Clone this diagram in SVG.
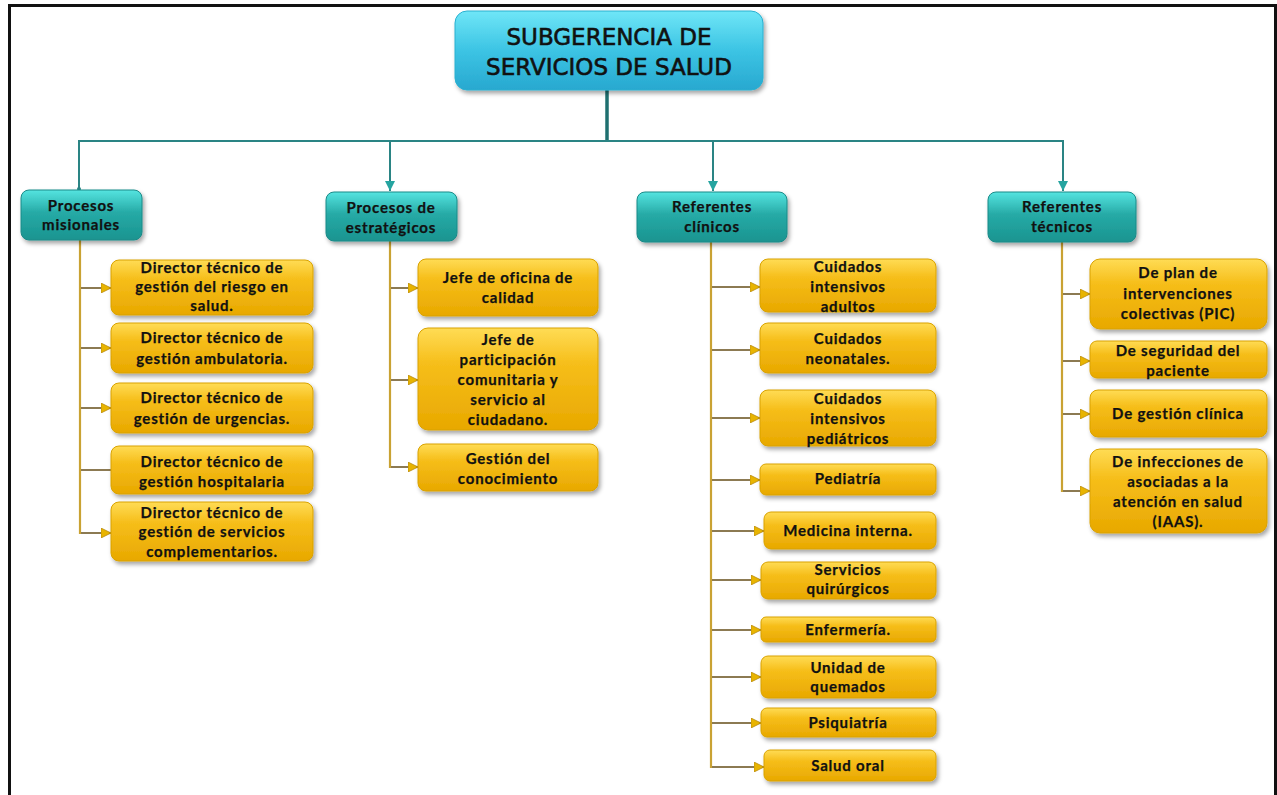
<svg xmlns="http://www.w3.org/2000/svg" width="1277" height="795" viewBox="0 0 1277 795">
  <defs>
    <linearGradient id="gTop" x1="0" y1="0" x2="0" y2="1">
      <stop offset="0" stop-color="#6fe6f7"/>
      <stop offset="0.5" stop-color="#3cc4e4"/>
      <stop offset="1" stop-color="#28a8d0"/>
    </linearGradient>
    <linearGradient id="gTeal" x1="0" y1="0" x2="0" y2="1">
      <stop offset="0" stop-color="#55e4e0"/>
      <stop offset="0.45" stop-color="#26aaa6"/>
      <stop offset="1" stop-color="#1a9490"/>
    </linearGradient>
    <linearGradient id="gGold" x1="0" y1="0" x2="0" y2="1">
      <stop offset="0" stop-color="#ffdc55"/>
      <stop offset="0.35" stop-color="#f6be1a"/>
      <stop offset="1" stop-color="#e8a800"/>
    </linearGradient>
    <linearGradient id="gShade" x1="0" y1="0" x2="0" y2="1">
      <stop offset="0" stop-color="#555" stop-opacity="0.75"/>
      <stop offset="1" stop-color="#777" stop-opacity="0"/>
    </linearGradient>
    <filter id="shadow" x="-10%" y="-10%" width="125%" height="135%">
      <feDropShadow dx="2" dy="3" stdDeviation="2" flood-color="#000" flood-opacity="0.35"/>
    </filter>
    <marker id="arrGold" viewBox="0 0 10 10" refX="10" refY="5" markerWidth="10" markerHeight="10" markerUnits="userSpaceOnUse" orient="auto">
      <path d="M0,0 L10,5 L0,10 Z" fill="#e8b400" stroke="#b88a10" stroke-width="0.8"/>
    </marker>
    <marker id="arrTeal" viewBox="0 0 10 10" refX="10" refY="5" markerWidth="10" markerHeight="10" markerUnits="userSpaceOnUse" orient="auto">
      <path d="M0,0 L10,5 L0,10 Z" fill="#25a4a0"/>
    </marker>
    <style>
      .top { fill: url(#gTop); stroke: #2ab0d0; stroke-width: 1; filter: url(#shadow); }
      .teal { fill: url(#gTeal); stroke: #1a8a88; stroke-width: 1; filter: url(#shadow); }
      .gold { fill: url(#gGold); stroke: #d9a200; stroke-width: 1; filter: url(#shadow); }
      .ttop { font-family: "DejaVu Sans", "Liberation Sans", sans-serif; font-size: 23px; fill: #111; stroke: #111; stroke-width: 0.6; text-anchor: middle; }
      .t { font-family: Lato, "Liberation Sans", sans-serif; font-weight: bold; font-size: 15px; fill: #111; stroke: #111; stroke-width: 0.25; text-anchor: middle; letter-spacing: 0.8px; }
      .trunk { stroke: #2a8484; stroke-width: 2; fill: none; }
      .stem { stroke: #1f7070; stroke-width: 3.5; fill: none; }
      .spine { stroke: #c9a233; stroke-width: 2.2; fill: none; }
      .spineShade { stroke: url(#gShade); stroke-width: 4; fill: none; }
      .branch { stroke: #8c7a52; stroke-width: 2; fill: none; }
      .arr { marker-end: url(#arrGold); }
    </style>
  </defs>

  <!-- outer frame -->
  <path d="M9.5,795 V5.5 H1275.5 V795" fill="none" stroke="#111" stroke-width="3"/>

  <!-- connectors -->
  <g id="connectors">
    <!-- top level -->
    <line class="stem" x1="607" y1="90" x2="607" y2="141"/>
    <polyline class="trunk" points="79,190 79,141 1063,141 1063,190"/>
    <line class="trunk" x1="390" y1="141" x2="390" y2="191" marker-end="url(#arrTeal)"/>
    <line class="trunk" x1="713" y1="141" x2="713" y2="191" marker-end="url(#arrTeal)"/>
    <line class="trunk" x1="1063" y1="141" x2="1063" y2="191" marker-end="url(#arrTeal)"/>
    <circle cx="79" cy="189" r="2" fill="#2a8484"/>

    <!-- Procesos misionales -->
    <line class="spineShade" x1="83" y1="242" x2="83" y2="360"/>
    <polyline class="spine" points="80,240 80,533 90,533"/>
    <line class="branch arr" x1="81" y1="288" x2="111" y2="288"/>
    <line class="branch arr" x1="81" y1="348" x2="111" y2="348"/>
    <line class="branch arr" x1="81" y1="408" x2="111" y2="408"/>
    <line class="branch" x1="81" y1="470" x2="111" y2="470"/>
    <line class="branch arr" x1="81" y1="533" x2="111" y2="533"/>

    <!-- Procesos de estratégicos -->
    <line class="spineShade" x1="393" y1="243" x2="393" y2="330"/>
    <polyline class="spine" points="390,241 390,467 400,467"/>
    <line class="branch arr" x1="391" y1="288" x2="418" y2="288"/>
    <line class="branch arr" x1="391" y1="380" x2="418" y2="380"/>
    <line class="branch arr" x1="391" y1="467" x2="418" y2="467"/>

    <!-- Referentes clínicos -->
    <line class="spineShade" x1="717" y1="243" x2="717" y2="640"/>
    <polyline class="spine" points="711,242 711,767 720,767"/>
    <line class="branch arr" x1="712" y1="287" x2="760" y2="287"/>
    <line class="branch arr" x1="712" y1="350" x2="760" y2="350"/>
    <line class="branch arr" x1="712" y1="418" x2="760" y2="418"/>
    <line class="branch arr" x1="712" y1="480" x2="760" y2="480"/>
    <line class="branch arr" x1="712" y1="531" x2="764" y2="531"/>
    <line class="branch arr" x1="712" y1="580" x2="761" y2="580"/>
    <line class="branch arr" x1="712" y1="630" x2="761" y2="630"/>
    <line class="branch arr" x1="712" y1="677" x2="761" y2="677"/>
    <line class="branch arr" x1="712" y1="723" x2="761" y2="723"/>
    <line class="branch arr" x1="712" y1="767" x2="764" y2="767"/>

    <!-- Referentes técnicos -->
    <line class="spineShade" x1="1065" y1="243" x2="1065" y2="340"/>
    <polyline class="spine" points="1062,242 1062,491 1070,491"/>
    <line class="branch arr" x1="1063" y1="294" x2="1090" y2="294"/>
    <line class="branch arr" x1="1063" y1="361" x2="1090" y2="361"/>
    <line class="branch arr" x1="1063" y1="414" x2="1090" y2="414"/>
    <line class="branch arr" x1="1063" y1="491" x2="1090" y2="491"/>
  </g>

  <!-- root -->
  <g id="n-subgerencia">
    <rect class="top" x="455" y="11" width="308" height="79" rx="12"/>
    <text class="ttop" x="609" y="45">SUBGERENCIA DE</text>
    <text class="ttop" x="609" y="75">SERVICIOS DE SALUD</text>
  </g>

  <!-- level 1 -->
  <g id="n-misionales">
    <rect class="teal" x="21" y="190" width="121" height="50" rx="8"/>
    <text class="t" x="81" y="211">Procesos</text>
    <text class="t" x="81" y="230">misionales</text>
  </g>
  <g id="n-estrategicos">
    <rect class="teal" x="326" y="192" width="131" height="49" rx="8"/>
    <text class="t" x="391" y="213">Procesos de</text>
    <text class="t" x="391" y="233">estratégicos</text>
  </g>
  <g id="n-clinicos">
    <rect class="teal" x="637" y="192" width="150" height="50" rx="8"/>
    <text class="t" x="712" y="212">Referentes</text>
    <text class="t" x="712" y="232">clínicos</text>
  </g>
  <g id="n-tecnicos">
    <rect class="teal" x="988" y="192" width="148" height="50" rx="8"/>
    <text class="t" x="1062" y="212">Referentes</text>
    <text class="t" x="1062" y="232">técnicos</text>
  </g>

  <!-- Procesos misionales children -->
  <g id="n-riesgo">
    <rect class="gold" x="111" y="260" width="202" height="55" rx="8"/>
    <text class="t" x="212" y="273">Director técnico de</text>
    <text class="t" x="212" y="292">gestión del riesgo en</text>
    <text class="t" x="212" y="311">salud.</text>
  </g>
  <g id="n-ambulatoria">
    <rect class="gold" x="111" y="323" width="202" height="50" rx="8"/>
    <text class="t" x="212" y="343">Director técnico de</text>
    <text class="t" x="212" y="364">gestión ambulatoria.</text>
  </g>
  <g id="n-urgencias">
    <rect class="gold" x="111" y="383" width="202" height="50" rx="8"/>
    <text class="t" x="212" y="403">Director técnico de</text>
    <text class="t" x="212" y="424">gestión de urgencias.</text>
  </g>
  <g id="n-hospitalaria">
    <rect class="gold" x="111" y="446" width="202" height="48" rx="8"/>
    <text class="t" x="212" y="467">Director técnico de</text>
    <text class="t" x="212" y="487">gestión hospitalaria</text>
  </g>
  <g id="n-complementarios">
    <rect class="gold" x="111" y="502" width="202" height="59" rx="8"/>
    <text class="t" x="212" y="518">Director técnico de</text>
    <text class="t" x="212" y="537">gestión de servicios</text>
    <text class="t" x="212" y="557">complementarios.</text>
  </g>

  <!-- Procesos de estratégicos children -->
  <g id="n-calidad">
    <rect class="gold" x="418" y="259" width="180" height="57" rx="8"/>
    <text class="t" x="508" y="283">Jefe de oficina de</text>
    <text class="t" x="508" y="303">calidad</text>
  </g>
  <g id="n-participacion">
    <rect class="gold" x="418" y="328" width="180" height="102" rx="10"/>
    <text class="t" x="508" y="345">Jefe de</text>
    <text class="t" x="508" y="365">participación</text>
    <text class="t" x="508" y="385">comunitaria y</text>
    <text class="t" x="508" y="405">servicio al</text>
    <text class="t" x="508" y="425">ciudadano.</text>
  </g>
  <g id="n-conocimiento">
    <rect class="gold" x="418" y="444" width="180" height="47" rx="8"/>
    <text class="t" x="508" y="464">Gestión del</text>
    <text class="t" x="508" y="484">conocimiento</text>
  </g>

  <!-- Referentes clínicos children -->
  <g id="n-uci-adultos">
    <rect class="gold" x="760" y="259" width="176" height="53" rx="8"/>
    <text class="t" x="848" y="272">Cuidados</text>
    <text class="t" x="848" y="292">intensivos</text>
    <text class="t" x="848" y="312">adultos</text>
  </g>
  <g id="n-neonatales">
    <rect class="gold" x="760" y="323" width="176" height="50" rx="8"/>
    <text class="t" x="848" y="344">Cuidados</text>
    <text class="t" x="848" y="364">neonatales.</text>
  </g>
  <g id="n-uci-pediatricos">
    <rect class="gold" x="760" y="390" width="176" height="56" rx="8"/>
    <text class="t" x="848" y="404">Cuidados</text>
    <text class="t" x="848" y="424">intensivos</text>
    <text class="t" x="848" y="444">pediátricos</text>
  </g>
  <g id="n-pediatria">
    <rect class="gold" x="760" y="464" width="176" height="31" rx="6"/>
    <text class="t" x="848" y="484">Pediatría</text>
  </g>
  <g id="n-medicina">
    <rect class="gold" x="764" y="512" width="172" height="37" rx="7"/>
    <text class="t" x="848" y="536">Medicina interna.</text>
  </g>
  <g id="n-quirurgicos">
    <rect class="gold" x="761" y="562" width="175" height="37" rx="7"/>
    <text class="t" x="848" y="575">Servicios</text>
    <text class="t" x="848" y="594">quirúrgicos</text>
  </g>
  <g id="n-enfermeria">
    <rect class="gold" x="761" y="617" width="175" height="25" rx="5"/>
    <text class="t" x="848" y="635">Enfermería.</text>
  </g>
  <g id="n-quemados">
    <rect class="gold" x="761" y="656" width="175" height="42" rx="7"/>
    <text class="t" x="848" y="673">Unidad de</text>
    <text class="t" x="848" y="692">quemados</text>
  </g>
  <g id="n-psiquiatria">
    <rect class="gold" x="761" y="708" width="175" height="29" rx="6"/>
    <text class="t" x="848" y="728">Psiquiatría</text>
  </g>
  <g id="n-salud-oral">
    <rect class="gold" x="764" y="750" width="172" height="31" rx="6"/>
    <text class="t" x="848" y="771">Salud oral</text>
  </g>

  <!-- Referentes técnicos children -->
  <g id="n-pic">
    <rect class="gold" x="1090" y="259" width="177" height="70" rx="10"/>
    <text class="t" x="1178" y="278">De plan de</text>
    <text class="t" x="1178" y="299">intervenciones</text>
    <text class="t" x="1178" y="319">colectivas (PIC)</text>
  </g>
  <g id="n-seguridad">
    <rect class="gold" x="1090" y="341" width="177" height="37" rx="7"/>
    <text class="t" x="1178" y="356">De seguridad del</text>
    <text class="t" x="1178" y="376">paciente</text>
  </g>
  <g id="n-gestion-clinica">
    <rect class="gold" x="1090" y="390" width="177" height="47" rx="8"/>
    <text class="t" x="1178" y="419">De gestión clínica</text>
  </g>
  <g id="n-iaas">
    <rect class="gold" x="1090" y="449" width="177" height="84" rx="10"/>
    <text class="t" x="1178" y="467">De infecciones de</text>
    <text class="t" x="1178" y="487">asociadas a la</text>
    <text class="t" x="1178" y="507">atención en salud</text>
    <text class="t" x="1178" y="527">(IAAS).</text>
  </g>
</svg>
